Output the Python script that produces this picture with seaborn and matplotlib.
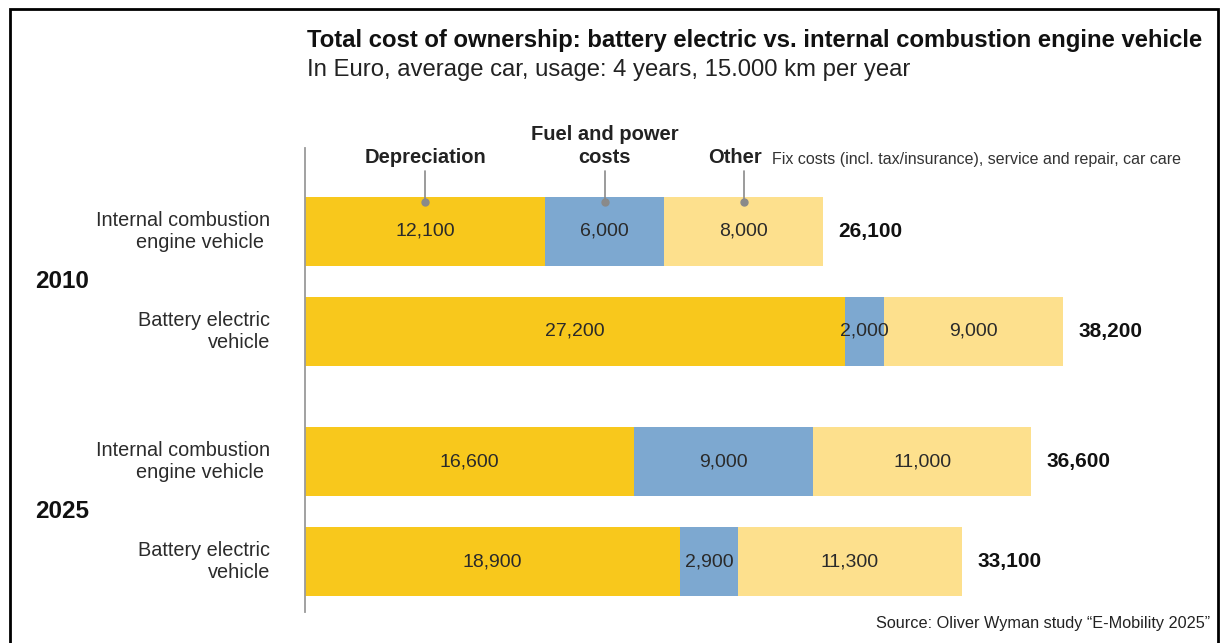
import numpy as np
import pandas as pd
import matplotlib
matplotlib.use("Agg")
import matplotlib.pyplot as plt
import matplotlib.patches as mpatches
import seaborn as sns

# ---------------------------
# Data
# ---------------------------
years = ["2010", "2025"]
vehicles = ["Internal combustion\nengine vehicle ", "Battery electric\nvehicle"]
depreciation = [12100, 27200, 16600, 18900]
fuel = [6000, 2000, 9000, 2900]
other = [8000, 9000, 11000, 11300]

segment_names = ["Depreciation", "Fuel and power\ncosts", "Other"]
other_note = "Fix costs (incl. tax/insurance), service and repair, car care"
title = "Total cost of ownership: battery electric vs. internal combustion engine vehicle"
subtitle = "In Euro, average car, usage: 4 years, 15.000 km per year"
source = "Source: Oliver Wyman study \u201cE-Mobility 2025\u201d"

colors = ["#F8C81C", "#7DA8D0", "#FDE08D"]

# ---------------------------
# Build table
# ---------------------------
group_gap = 2.3
rows = []
i = 0
for yi, yr in enumerate(years):
    for vi, veh in enumerate(vehicles):
        rows.append({"year": yr, "vehicle": veh, "pos": yi * group_gap + vi,
                     "dep": depreciation[i], "fuel": fuel[i], "other": other[i]})
        i += 1
df = pd.DataFrame(rows)
df["cum1"] = df["dep"]
df["cum2"] = df["dep"] + df["fuel"]
df["total"] = df["cum2"] + df["other"]

# ---------------------------
# Plot
# ---------------------------
sns.set_theme(style="white")
plt.rcParams["font.family"] = ["Liberation Sans", "DejaVu Sans"]

W, H = 1221, 643
fig = plt.figure(figsize=(W / 100, H / 100), dpi=100)
ax = fig.add_axes([305 / W, 1 - 612 / H, 893 / W, 464 / H])

# stacked bars: draw cumulative sums from the back to the front
for col, c in zip(["total", "cum2", "cum1"], colors[::-1]):
    sns.barplot(data=df, x=col, y="pos", orient="y", native_scale=True,
                color=c, saturation=1, width=0.69, errorbar=None,
                linewidth=0, ax=ax)

ax.set_xlim(0, 45000)
ax.set_ylim(3.8, -0.83)
ax.set_xticks([])
ax.set_yticks([])
ax.set_xlabel("")
ax.set_ylabel("")
for s in ["top", "right", "bottom"]:
    ax.spines[s].set_visible(False)
ax.spines["left"].set_color("#9a9a9a")
ax.spines["left"].set_linewidth(1.3)

# value labels
for _, r in df.iterrows():
    starts = [0, r["cum1"], r["cum2"]]
    vals = [r["dep"], r["fuel"], r["other"]]
    for s0, v in zip(starts, vals):
        ax.text(s0 + v / 2, r["pos"], f"{v:,}", ha="center", va="center",
                fontsize=14, color="#2a2a2a")
    ax.annotate(f"{r['total']:,}", xy=(r["total"], r["pos"]), xytext=(11, 0),
                textcoords="offset points", ha="left", va="center",
                fontsize=15, fontweight="bold", color="#111111")

# row labels and year labels
ytr = ax.get_yaxis_transform()
for _, r in df.iterrows():
    ax.text(-35 / 893, r["pos"], r["vehicle"], transform=ytr, ha="right",
            va="center", fontsize=14.3, color="#2b2b2b", linespacing=1.2)
for yi, yr in enumerate(years):
    mid = df.loc[df["year"] == yr, "pos"].mean()
    ax.text(-270 / 893, mid, yr, transform=ytr, ha="left", va="center",
            fontsize=17.5, fontweight="bold", color="#111111")

# segment callouts on the first bar
first = df.iloc[0]
centers = [first["dep"] / 2, first["cum1"] + first["fuel"] / 2,
           first["cum2"] + first["other"] / 2]
bar_top = first["pos"] - 0.345
for name, cx in zip(segment_names, centers):
    ax.plot([cx, cx], [bar_top - 0.26, bar_top + 0.05], color="#8a8a8a",
            lw=1.2, clip_on=False)
    ax.plot(cx, bar_top + 0.05, "o", color="#8a8a8a", ms=5, clip_on=False)
    dx = -6 if name == "Other" else 0
    t = ax.annotate(name, xy=(cx, bar_top - 0.34), xytext=(dx, 0),
                    textcoords="offset points", ha="center", va="baseline",
                    fontsize=14.5, fontweight="bold", color="#222222",
                    linespacing=1.25, annotation_clip=False)
    if name == "Other":
        ax.annotate(other_note, xy=(1, 0), xycoords=t, xytext=(7, 0),
                    textcoords="offset points", ha="left", va="bottom",
                    fontsize=11.5, color="#333333")

# titles and source
fig.text(307 / W, 1 - 47 / H, title, ha="left", va="baseline",
         fontsize=17.2, fontweight="bold", color="#111111")
fig.text(307 / W, 1 - 76 / H, subtitle, ha="left", va="baseline",
         fontsize=17.2, color="#222222")
fig.text(1210 / W, 1 - 628 / H, source, ha="right", va="baseline",
         fontsize=11.7, color="#222222")

# frame around the slide
fig.add_artist(mpatches.Rectangle((10 / W, -0.05), 1208 / W, 1.05 - 9 / H,
                                  transform=fig.transFigure, fill=False,
                                  edgecolor="black", lw=2))

fig.savefig("out.png", dpi=100)
